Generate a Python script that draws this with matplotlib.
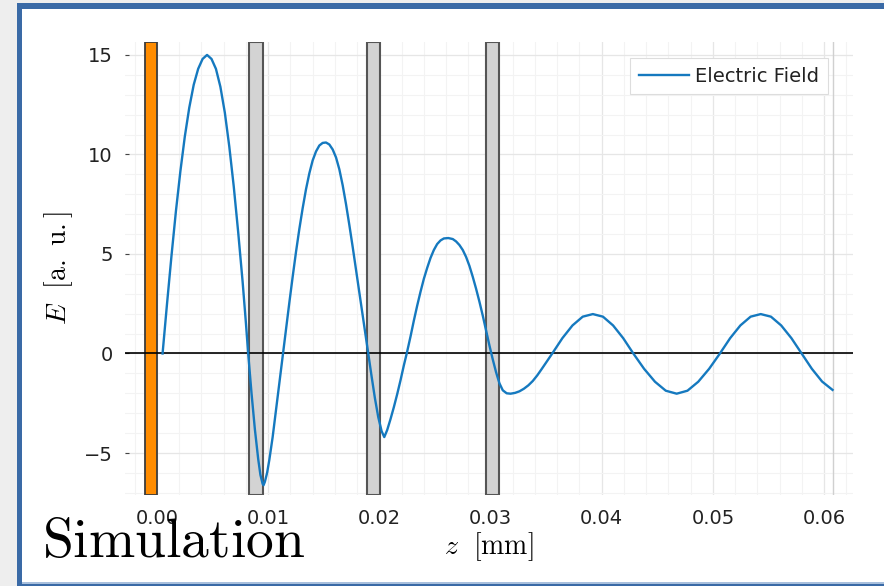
import matplotlib
matplotlib.use("Agg")
import matplotlib.pyplot as plt
from matplotlib.patches import Rectangle
from matplotlib.ticker import AutoMinorLocator

plt.rcParams['mathtext.fontset'] = 'cm'
plt.rcParams['font.family'] = ['DejaVu Sans']

# ---- data ----
z_mm = [0.0005, 0.0009, 0.0013, 0.0017, 0.0021, 0.0025, 0.0029, 0.0033, 0.0037, 0.0041,
        0.0045, 0.0049, 0.0053, 0.0057, 0.0061, 0.0065, 0.0069, 0.0073, 0.0077, 0.0080,
        0.0082, 0.0085, 0.0088, 0.0091, 0.0093, 0.0095, 0.00958, 0.0097, 0.0099, 0.0101,
        0.0104, 0.0107, 0.0110, 0.0113, 0.0116, 0.0119, 0.0122, 0.0125, 0.0128, 0.0131,
        0.0134, 0.0137, 0.0140, 0.0143, 0.0146, 0.0149, 0.0152, 0.0155, 0.0158, 0.0161,
        0.0164, 0.0167, 0.0170, 0.0173, 0.0176, 0.0179, 0.0182, 0.0185, 0.0188, 0.0190,
        0.0193, 0.0196, 0.0199, 0.0202, 0.02044, 0.0207, 0.0210, 0.0213, 0.0216, 0.0219,
        0.0222, 0.02246, 0.0228, 0.0231, 0.0234, 0.0237, 0.0240, 0.0243, 0.0246, 0.0249,
        0.0252, 0.0255, 0.0258, 0.0262, 0.0266, 0.0269, 0.0272, 0.0275, 0.0278, 0.0281,
        0.0284, 0.0287, 0.0290, 0.0293, 0.0296, 0.0299, 0.0302, 0.0305, 0.0308, 0.0311,
        0.03145, 0.0318, 0.0322, 0.0326, 0.0330, 0.0334, 0.0338, 0.0342, 0.0346, 0.0350,
        0.03555, 0.03646, 0.03737, 0.03829, 0.0392, 0.04011, 0.04102, 0.04193, 0.04284, 0.04381,
        0.04479, 0.04576, 0.04674, 0.04771, 0.04868, 0.04966, 0.05063, 0.05155, 0.05247, 0.05339,
        0.0543, 0.05522, 0.05614, 0.05706, 0.05798, 0.0589, 0.05982, 0.06076]
E_field = [0.0, 2.5, 4.9, 7.15, 9.15, 10.9, 12.35, 13.5, 14.3, 14.8,
           15.0, 14.8, 14.3, 13.4, 12.1, 10.4, 8.4, 6.1, 3.6, 1.5,
           0.0, -2.0, -3.8, -5.3, -6.1, -6.55, -6.62, -6.45, -6.0, -5.35,
           -4.2, -2.85, -1.5, -0.15, 1.2, 2.55, 3.85, 5.1, 6.25, 7.3,
           8.25, 9.05, 9.7, 10.15, 10.45, 10.58, 10.6, 10.5, 10.25, 9.85,
           9.25, 8.45, 7.5, 6.45, 5.35, 4.2, 3.05, 1.9, 0.75, 0.0,
           -1.15, -2.25, -3.2, -3.9, -4.2, -3.85, -3.3, -2.7, -2.05, -1.35,
           -0.6, 0.0, 0.85, 1.65, 2.4, 3.1, 3.75, 4.3, 4.8, 5.2,
           5.5, 5.68, 5.78, 5.8, 5.75, 5.63, 5.45, 5.2, 4.85, 4.4,
           3.85, 3.25, 2.6, 1.9, 1.15, 0.4, -0.3, -0.95, -1.5, -1.85,
           -2.0, -2.02, -1.98, -1.9, -1.77, -1.6, -1.38, -1.1, -0.78, -0.45,
           0.0, 0.77, 1.41, 1.85, 1.98, 1.85, 1.41, 0.77, 0.0, -0.77,
           -1.42, -1.87, -2.02, -1.87, -1.42, -0.77, 0.0, 0.77, 1.41, 1.85,
           1.98, 1.85, 1.41, 0.77, 0.0, -0.77, -1.41, -1.83]

source_left, source_right = -0.0011, 0.0
gray_left = [0.0083, 0.0189, 0.0296]
gray_right = [0.0095, 0.0201, 0.0308]

x_ticks = [0.00, 0.01, 0.02, 0.03, 0.04, 0.05, 0.06]
x_ticklabels = ["0.00", "0.01", "0.02", "0.03", "0.04", "0.05", "0.06"]
y_ticks = [-5, 0, 5, 10, 15]
y_ticklabels = ["\u22125", "0", "5", "10", "15"]

W, H = 884, 586
fig = plt.figure(figsize=(W / 100, H / 100), dpi=100)
fig.patch.set_facecolor('#eeeeee')

def px_rect(x0, y0, x1, y1, color, z=0):
    fig.patches.append(Rectangle((x0 / W, 1 - y1 / H), (x1 - x0) / W, (y1 - y0) / H,
                                 transform=fig.transFigure, facecolor=color,
                                 edgecolor='none', zorder=z))

px_rect(17, 3, W + 5, H + 5, '#3a6aa6', z=-10)
px_rect(22, 9, W + 5, 582, 'white', z=-9)
px_rect(22, 582, W + 5, 584, '#a9c0dd', z=-9)

ax = fig.add_axes([125 / W, 1 - 495 / H, (853 - 125) / W, (495 - 42) / H])
ax.set_facecolor('none')

for s in ax.spines.values():
    s.set_visible(False)

ax.set_xlim(-0.00288, 0.0626)
ax.set_ylim(-7.11, 15.65)

ax.xaxis.set_minor_locator(AutoMinorLocator(5))
ax.yaxis.set_minor_locator(AutoMinorLocator(5))
ax.grid(True, which='major', color='#e6e6e6', lw=0.9, zorder=0)
ax.grid(True, which='minor', color='#f3f3f3', lw=0.8, zorder=0)
ax.set_axisbelow(True)

ax.axvspan(source_left, source_right, facecolor='#ff8c00', edgecolor='#3c3c3c', lw=1.3, zorder=2)
for l, r in zip(gray_left, gray_right):
    ax.axvspan(l, r, facecolor='#d3d3d3', edgecolor='#555555', lw=1.5, zorder=2)

ax.axhline(0, color='black', lw=1.2, zorder=3)
ax.axvline(z_mm[-1], color='#d0d0d0', lw=1.0, zorder=1)

ax.plot(z_mm, E_field, color='#1579bf', lw=1.7, zorder=4, label='Electric Field',
        solid_joinstyle='round')

ax.set_xticks(x_ticks)
ax.set_xticklabels(x_ticklabels)
ax.set_yticks(y_ticks)
ax.set_yticklabels(y_ticklabels)
ax.tick_params(which='major', direction='in', length=3, width=0.8, color='#444444',
               labelsize=14, labelcolor='#222222', pad=9)
ax.tick_params(axis='x', which='major', length=0, pad=10)
ax.tick_params(which='minor', length=0)

ax.set_xlabel(r"$z\ \ [\mathrm{mm}]$", fontsize=20, labelpad=2)
ax.set_ylabel(r"$E\ \ [\mathrm{a.\ u.}]$", fontsize=20, labelpad=6)

leg = ax.legend(loc='upper right', bbox_to_anchor=(0.9657, 0.9647), borderaxespad=0,
                fontsize=14, frameon=True, fancybox=False, framealpha=1,
                edgecolor='#dddddd', handlelength=2.6, handletextpad=0.3,
                borderpad=0.45)
leg.get_frame().set_linewidth(0.8)
for t in leg.get_texts():
    t.set_color('#222222')

fig.text(42 / W, 1 - 557 / H, r"$\mathrm{Simulation}$", fontsize=40, ha='left',
         va='baseline', zorder=20)

fig.savefig('out.png', dpi=100, facecolor=fig.get_facecolor())
